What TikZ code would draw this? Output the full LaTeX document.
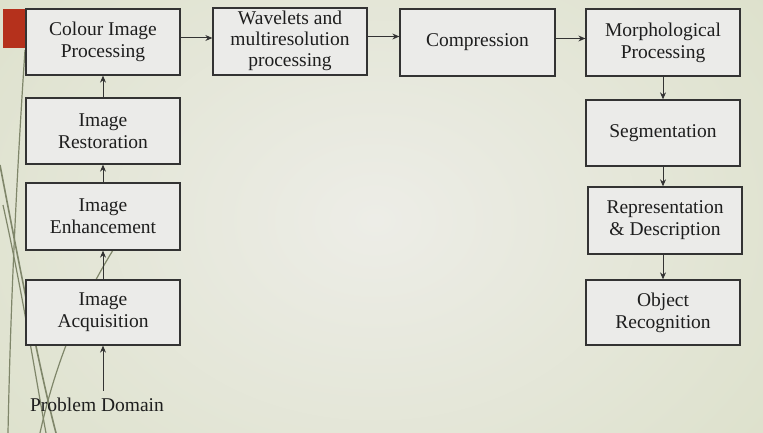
\documentclass[tikz,border=0pt]{standalone}
\usepackage{fontspec}
\setmainfont{Liberation Serif}
\usetikzlibrary{arrows.meta}
\definecolor{bgout}{HTML}{DCE0CA}
\definecolor{bgin}{HTML}{EDEDE7}
\definecolor{boxfill}{HTML}{EBEBE9}
\definecolor{boxline}{HTML}{333333}
\definecolor{deco}{HTML}{7F866A}
\definecolor{redbar}{HTML}{B5311C}
\definecolor{txt}{HTML}{1E1E1E}
\tikzset{
  stage/.style={draw=boxline, line width=1.3pt, fill=boxfill, minimum width=154pt,
    minimum height=66pt, inner sep=0pt, align=center, text=txt,
    font=\fontsize{19.5}{22}\selectfont},
  plain/.style={inner sep=0pt, text=txt, font=\fontsize{19.5}{22}\selectfont},
  arr/.style={draw=boxline, line width=1pt, -{Stealth[length=7pt,width=6pt]}},
  decoline/.style={draw=deco, line width=1.2pt}
}
\begin{document}
\begin{tikzpicture}[x=1pt,y=-1pt]
\useasboundingbox (0,0) rectangle (763,433);
\fill[bgout] (0,0) rectangle (763,433);
\shade[inner color=bgin, outer color=bgout] (-150,-180) rectangle (900,620);
% decorative lines
\draw[decoline] (25,50) .. controls (15,200) and (10,330) .. (8,433);
\draw[decoline, line width=1.6pt] (0,165) .. controls (22,280) and (42,380) .. (56,433);
\draw[decoline] (3,205) .. controls (24,300) and (36,380) .. (46,433);
\draw[decoline] (122,236) .. controls (80,300) and (55,365) .. (40,433);
\fill[redbar] (3,9) rectangle (26,48);
% nodes
\node[stage] (col) at (103,42) {\raisebox{-2pt}{\begin{tabular}{@{}c@{}}Colour Image\\Processing\end{tabular}}};
\node[stage] (res) at (103,131) {Image\\Restoration};
\node[stage, minimum height=67pt] (enh) at (103,216.5) {Image\\Enhancement};
\node[stage, minimum height=65pt] (acq) at (103,312.5) {Image\\Acquisition};
\node[plain] (dom) at (97,405) {Problem Domain};
\node[stage, minimum height=67pt] (wav) at (290,41.5) {\raisebox{-4pt}{\renewcommand\arraystretch{0.94}\begin{tabular}{@{}c@{}}Wavelets and\\multiresolution\\processing\end{tabular}}};
\node[stage, minimum width=155pt, minimum height=67pt] (cmp) at (477.5,42.5) {Compression};
\node[stage, minimum height=67pt] (mor) at (663,42.5) {Morphological\\Processing};
\node[stage] (seg) at (663,133) {Segmentation};
\node[stage, minimum height=67pt] (rep) at (665,220.5) {Representation\\\& Description};
\node[stage, minimum height=65pt] (obj) at (663,312.5) {Object\\Recognition};
% connectors
\draw[arr] ([yshift=7pt]dom.north -| acq.south) -- (acq.south);
\draw[arr] (acq.north) -- (enh.south);
\draw[arr] (enh.north) -- (res.south);
\draw[arr] (res.north) -- (col.south);
\draw[arr] ([yshift=4pt]col.east) -- ([yshift=4pt]col.east -| wav.west);
\draw[arr] ([yshift=5pt]wav.east) -- ([yshift=5pt]wav.east -| cmp.west);
\draw[arr] ([yshift=4pt]cmp.east) -- ([yshift=4pt]cmp.east -| mor.west);
\draw[arr] (mor.south) -- (seg.north);
\draw[arr] (seg.south) -- (seg.south |- rep.north);
\draw[arr] (rep.south -| obj.north) -- (obj.north);
\end{tikzpicture}
\end{document}
